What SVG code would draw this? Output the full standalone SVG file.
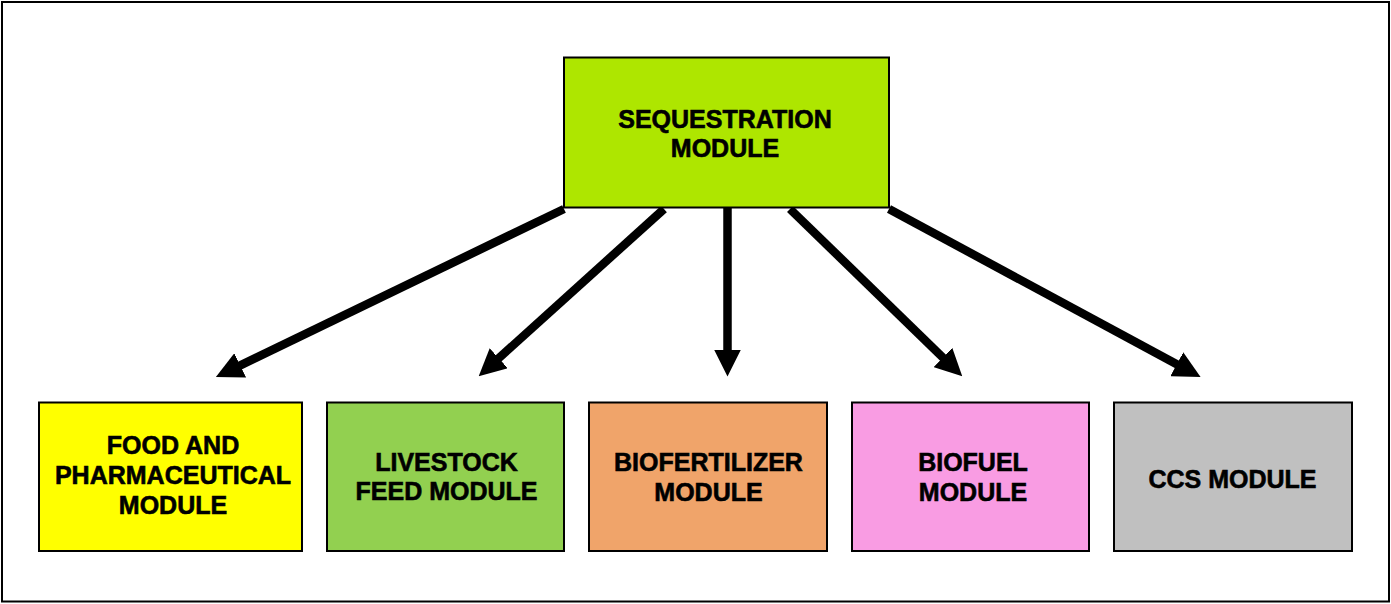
<svg xmlns="http://www.w3.org/2000/svg" width="1391" height="604" viewBox="0 0 1391 604">
<style>
.box{stroke:#000;stroke-width:2}
.t{font-family:"Liberation Sans",Arial,sans-serif;font-weight:bold;font-size:25px;fill:#000;stroke:#000;stroke-width:0.6;text-anchor:middle}
.c{stroke:#000;stroke-width:8.5;fill:none}
</style>
<defs>
<marker id="ah" markerUnits="userSpaceOnUse" viewBox="0 0 27 27" markerWidth="27" markerHeight="27" refX="1" refY="13.5" orient="auto">
<path d="M0,0 L27,13.5 L0,27 Z" fill="#000"/>
</marker>
</defs>
<rect x="2" y="2" width="1387" height="599.5" fill="#fff" stroke="#000" stroke-width="2"/>
<g id="connectors">
<line class="c" x1="564" y1="209" x2="239.3" y2="365.8" marker-end="url(#ah)"/>
<line class="c" x1="664" y1="209" x2="498" y2="358.9" marker-end="url(#ah)"/>
<line class="c" x1="727.5" y1="208" x2="727.5" y2="350.5" marker-end="url(#ah)"/>
<line class="c" x1="790" y1="209" x2="943.6" y2="358.2" marker-end="url(#ah)"/>
<line class="c" x1="889" y1="209" x2="1177.7" y2="364.7" marker-end="url(#ah)"/>
</g>
<g id="sequestration">
<rect class="box" x="564" y="57.5" width="325" height="150" fill="#AEE600"/>
<text class="t" x="725" y="127.5">SEQUESTRATION</text>
<text class="t" x="725" y="157">MODULE</text>
</g>
<g id="food">
<rect class="box" x="39" y="402.5" width="263" height="148.5" fill="#FFFF00"/>
<text class="t" x="173" y="454.3">FOOD AND</text>
<text class="t" x="173" y="484.3">PHARMACEUTICAL</text>
<text class="t" x="173" y="514.3">MODULE</text>
</g>
<g id="livestock">
<rect class="box" x="327" y="402.5" width="237" height="148.5" fill="#92D050"/>
<text class="t" x="446.5" y="471">LIVESTOCK</text>
<text class="t" x="446.5" y="500.3">FEED MODULE</text>
</g>
<g id="biofertilizer">
<rect class="box" x="589" y="402.5" width="238" height="148.5" fill="#F0A46A"/>
<text class="t" x="708.5" y="471">BIOFERTILIZER</text>
<text class="t" x="708.5" y="501">MODULE</text>
</g>
<g id="biofuel">
<rect class="box" x="852" y="402.5" width="237" height="148.5" fill="#F99CE3"/>
<text class="t" x="973" y="471">BIOFUEL</text>
<text class="t" x="973" y="501">MODULE</text>
</g>
<g id="ccs">
<rect class="box" x="1114" y="402.5" width="238" height="148.5" fill="#C0C0C0"/>
<text class="t" x="1232.5" y="487.7">CCS MODULE</text>
</g>
</svg>
